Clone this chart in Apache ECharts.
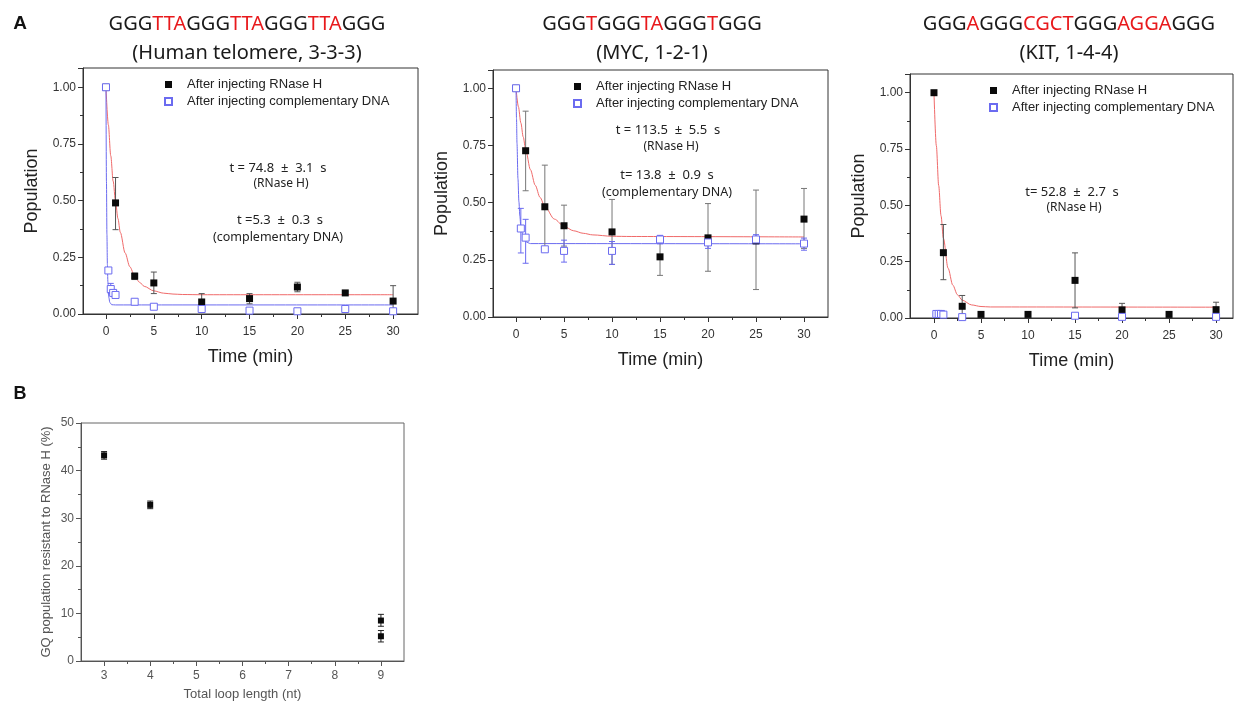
<!DOCTYPE html>
<html>
<head>
<meta charset="utf-8">
<script src="https://cdn.jsdelivr.net/npm/echarts@6/dist/echarts.min.js"></script>
<style>
html, body { margin: 0; padding: 0; background: #fff; }
#chart { width: 1235px; height: 702px; }
</style>
</head>
<body>
<div id="chart"></div>
<script>
// ---- panel A1: human telomere ----
const telTimeRH = [0, 1, 3, 5, 10, 15, 20, 25, 30];
const telPopRH = [1.0, 0.49, 0.167, 0.137, 0.053, 0.068, 0.119, 0.093, 0.057];
const telErrRH = [null, [0.372, 0.602], [0.152, 0.18], [0.09, 0.185], [0.02, 0.09], [0.045, 0.09], [0.098, 0.14], [0.085, 0.1], [0.0, 0.125]];
const telTimeCD = [0, 0.25, 0.5, 0.75, 1, 3, 5, 10, 15, 20, 25, 30];
const telPopCD = [1.0, 0.192, 0.11, 0.093, 0.084, 0.054, 0.032, 0.022, 0.015, 0.012, 0.022, 0.012];
const telErrCD = [null, null, [0.09, 0.135], null, null, null, null, null, null, null, null, null];
const telFitTimeRH = [0, 0.25, 0.5, 0.75, 1, 1.25, 1.5, 2, 2.5, 3, 3.5, 4, 5, 6, 7, 8, 10, 30];
const telFitRH = [1.0, 0.834, 0.698, 0.586, 0.495, 0.421, 0.36, 0.269, 0.208, 0.167, 0.14, 0.122, 0.102, 0.092, 0.088, 0.086, 0.085, 0.085];
const telFitTimeCD = [0, 0.05, 0.1, 0.15, 0.2, 0.3, 0.4, 0.6, 1, 30];
const telFitCD = [1.0, 0.586, 0.351, 0.217, 0.141, 0.073, 0.051, 0.041, 0.04, 0.04];

// ---- panel A2: MYC ----
const mycTimeRH = [0, 1, 3, 5, 10, 15, 20, 25, 30];
const mycPopRH = [1.0, 0.727, 0.482, 0.399, 0.372, 0.263, 0.346, 0.333, 0.428];
const mycErrRH = [null, [0.552, 0.9], [0.3, 0.664], [0.31, 0.489], [0.23, 0.514], [0.182, 0.345], [0.2, 0.496], [0.12, 0.555], [0.3, 0.562]];
const mycTimeCD = [0, 0.5, 1, 3, 5, 10, 15, 20, 25, 30];
const mycPopCD = [1.0, 0.387, 0.347, 0.296, 0.289, 0.289, 0.339, 0.326, 0.339, 0.321];
const mycErrCD = [null, [0.28, 0.475], [0.235, 0.427], [0.29, 0.305], [0.24, 0.336], [0.23, 0.33], [0.32, 0.357], [0.3, 0.345], [0.32, 0.36], [0.292, 0.345]];
const mycFitTimeRH = [0, 0.25, 0.5, 0.75, 1, 1.5, 2, 2.5, 3, 4, 5, 6, 7, 8, 10, 12, 30];
const mycFitRH = [1.0, 0.919, 0.849, 0.787, 0.733, 0.644, 0.576, 0.523, 0.483, 0.428, 0.396, 0.377, 0.366, 0.359, 0.353, 0.352, 0.35];
const mycFitTimeCD = [0, 0.05, 0.1, 0.2, 0.3, 0.4, 0.5, 0.75, 1, 1.5, 30];
const mycFitCD = [1.0, 0.867, 0.76, 0.605, 0.504, 0.44, 0.397, 0.346, 0.329, 0.321, 0.32];

// ---- panel A3: KIT ----
const kitTimeRH = [0, 1, 3, 5, 10, 15, 20, 25, 30];
const kitPopRH = [1.0, 0.29, 0.052, 0.016, 0.016, 0.167, 0.036, 0.016, 0.037];
const kitErrRH = [null, [0.17, 0.415], [0.0, 0.1], null, null, [0.045, 0.289], [0.01, 0.065], null, [0.01, 0.07]];
const kitTimeCD = [0.25, 0.5, 0.75, 1, 3, 15, 20, 30];
const kitPopCD = [0.018, 0.018, 0.018, 0.015, 0.004, 0.01, 0.005, 0.005];
const kitFitTimeRH = [0, 0.25, 0.5, 0.75, 1, 1.5, 2, 2.5, 3, 4, 5, 6, 30];
const kitFitRH = [1.0, 0.765, 0.588, 0.454, 0.354, 0.221, 0.146, 0.103, 0.079, 0.058, 0.051, 0.049, 0.048];

// ---- panel B ----
const loopLength = [3, 4, 9, 9];
const resistPct = [43.2, 32.8, 8.5, 5.2];
const resistErr = [[42.4, 44.0], [32.0, 33.6], [7.3, 9.8], [4.0, 6.4]];

const timeTicks = [0, 5, 10, 15, 20, 25, 30];
const timeMinorTicks = [2.5, 7.5, 12.5, 17.5, 22.5, 27.5];
const loopTicks = [3, 4, 5, 6, 7, 8, 9];
const loopMinorTicks = [3.5, 4.5, 5.5, 6.5, 7.5, 8.5];

const NAME_RH = 'After injecting RNase H';
const NAME_CD = 'After injecting complementary DNA';
const RED = '#f06a6a';
const BLUE = '#6b6bf0';
const AX = '#333';

const zip = (xs, ys) => xs.map((x, i) => [x, ys[i]]);

function xAxes(gridIndex, min, max, major, minor, name, style) {
    return [
        {
            type: 'value', gridIndex, min, max, position: 'bottom',
            axisLine: { onZero: false, lineStyle: { color: style.line } },
            axisTick: { customValues: major, length: 5, lineStyle: { color: style.line } },
            axisLabel: { customValues: major, color: style.label, fontSize: style.tick, margin: style.margin, fontFamily: 'Liberation Sans' },
            splitLine: { show: false },
            name, nameLocation: 'middle', nameGap: style.nameGap,
            nameTextStyle: { fontSize: style.name, color: style.nameColor, fontFamily: 'Liberation Sans' }
        },
        {
            type: 'value', gridIndex, min, max, position: 'bottom', offset: 0,
            axisLine: { show: false, onZero: false },
            axisTick: { customValues: minor, length: 3, lineStyle: { color: style.line } },
            axisLabel: { show: false },
            splitLine: { show: false }
        }
    ];
}

function yAxis(gridIndex, min, max, interval, digits, name, style) {
    return {
        type: 'value', gridIndex, min, max, interval,
        axisLine: { show: true, onZero: false, lineStyle: { color: style.line } },
        axisTick: { length: 5, lineStyle: { color: style.line } },
        minorTick: { show: true, splitNumber: 2, length: 3, lineStyle: { color: style.line } },
        axisLabel: {
            color: style.label, fontSize: style.tick, margin: 7, showMaxLabel: style.maxLabel,
            fontFamily: 'Liberation Sans',
            formatter: v => v.toFixed(digits)
        },
        splitLine: { show: false },
        name, nameLocation: 'middle', nameGap: style.nameGap, nameRotate: 90,
        nameTextStyle: { fontSize: style.name, color: style.nameColor, fontFamily: 'Liberation Sans' }
    };
}

function errorBars(xi, yi, xs, bars, color) {
    const data = [];
    xs.forEach((x, i) => { if (bars[i]) data.push([x, bars[i][0], bars[i][1]]); });
    return {
        type: 'custom', xAxisIndex: xi, yAxisIndex: yi, data, z: 3, silent: true,
        encode: { x: 0, y: [1, 2] },
        renderItem(params, api) {
            const top = api.coord([api.value(0), api.value(2)]);
            const bot = api.coord([api.value(0), api.value(1)]);
            const w = 3;
            const st = { stroke: color, lineWidth: 1 };
            return {
                type: 'group',
                children: [
                    { type: 'line', shape: { x1: top[0], y1: top[1], x2: bot[0], y2: bot[1] }, style: st },
                    { type: 'line', shape: { x1: top[0] - w, y1: top[1], x2: top[0] + w, y2: top[1] }, style: st },
                    { type: 'line', shape: { x1: bot[0] - w, y1: bot[1], x2: bot[0] + w, y2: bot[1] }, style: st }
                ]
            };
        }
    };
}

function fitLine(xi, yi, xs, ys, color) {
    return {
        type: 'line', xAxisIndex: xi, yAxisIndex: yi, data: zip(xs, ys),
        showSymbol: false, smooth: 0.3, smoothMonotone: 'x', silent: true, z: 2,
        lineStyle: { color, width: 1 }
    };
}

function points(xi, yi, name, xs, ys, hollow, size) {
    return {
        type: 'scatter', name, xAxisIndex: xi, yAxisIndex: yi, data: zip(xs, ys),
        symbol: 'rect', symbolSize: size || 7, z: hollow ? 6 : 5, silent: true,
        itemStyle: hollow
            ? { color: '#fff', borderColor: BLUE, borderWidth: 1, opacity: 1 }
            : { color: '#0a0a0a', opacity: 1 }
    };
}

function legend(left, top) {
    return {
        orient: 'vertical', left, top, itemWidth: 7, itemHeight: 7, itemGap: 4,
        selectedMode: false,
        textStyle: { fontSize: 13, color: '#222', fontFamily: 'Liberation Sans', padding: [0, 0, 0, 10] },
        data: [{ name: NAME_RH, icon: 'rect' }, { name: NAME_CD, icon: 'rect' }]
    };
}

const styleA = { line: AX, label: '#333', tick: 12, name: 18, nameColor: '#222', nameGap: 34, margin: 12, maxLabel: false };
const styleAy = Object.assign({}, styleA, { nameGap: 42 });
const styleB = { line: '#555', label: '#555', tick: 12, name: 13, nameColor: '#555', nameGap: 27, margin: 9, maxLabel: true };
const styleBy = Object.assign({}, styleB, { nameGap: 28 });

function txt(x, y, text, size, extra) {
    return {
        type: 'text', x, y, silent: true,
        style: Object.assign({
            text, fill: '#222', font: size + 'px "Noto Sans"',
            textAlign: 'center', textVerticalAlign: 'middle'
        }, extra || {})
    };
}
const seqRich = { k: { fill: '#1a1a1a', fontSize: 20, fontFamily: 'Noto Sans' }, r: { fill: '#e8191c', fontSize: 20, fontFamily: 'Noto Sans' } };

const chart = echarts.init(document.getElementById('chart'));
chart.setOption({
    backgroundColor: '#fff',
    animation: false,
    grid: [
        { left: 83, top: 68, width: 335, height: 246, show: true, borderColor: AX, borderWidth: 1 },
        { left: 493, top: 70, width: 335, height: 247, show: true, borderColor: AX, borderWidth: 1 },
        { left: 910, top: 74, width: 323, height: 244, show: true, borderColor: AX, borderWidth: 1 },
        { left: 81, top: 423, width: 323, height: 238, show: true, borderColor: '#666', borderWidth: 1 }
    ],
    xAxis: [].concat(
        xAxes(0, -2.4, 32.6, timeTicks, timeMinorTicks, 'Time (min)', styleA),
        xAxes(1, -2.4, 32.5, timeTicks, timeMinorTicks, 'Time (min)', styleA),
        xAxes(2, -2.55, 31.8, timeTicks, timeMinorTicks, 'Time (min)', styleA),
        xAxes(3, 2.5, 9.5, loopTicks, loopMinorTicks, 'Total loop length (nt)', styleB)
    ),
    yAxis: [
        yAxis(0, 0, 1.085, 0.25, 2, 'Population', styleAy),
        yAxis(1, 0, 1.08, 0.25, 2, 'Population', styleAy),
        yAxis(2, 0, 1.083, 0.25, 2, 'Population', styleAy),
        yAxis(3, 0, 50, 10, 0, 'GQ population resistant to RNase H (%)', styleBy)
    ],
    legend: [legend(159, 73), legend(568, 75), legend(984, 79)],
    series: [
        fitLine(0, 0, telFitTimeRH, telFitRH, RED),
        fitLine(0, 0, telFitTimeCD, telFitCD, BLUE),
        errorBars(0, 0, telTimeRH, telErrRH, '#555'),
        errorBars(0, 0, telTimeCD, telErrCD, BLUE),
        points(0, 0, NAME_RH, telTimeRH, telPopRH, false),
        points(0, 0, NAME_CD, telTimeCD, telPopCD, true),

        fitLine(2, 1, mycFitTimeRH, mycFitRH, RED),
        fitLine(2, 1, mycFitTimeCD, mycFitCD, BLUE),
        errorBars(2, 1, mycTimeRH, mycErrRH, '#777'),
        errorBars(2, 1, mycTimeCD, mycErrCD, BLUE),
        points(2, 1, NAME_RH, mycTimeRH, mycPopRH, false),
        points(2, 1, NAME_CD, mycTimeCD, mycPopCD, true),

        fitLine(4, 2, kitFitTimeRH, kitFitRH, RED),
        errorBars(4, 2, kitTimeRH, kitErrRH, '#555'),
        points(4, 2, NAME_RH, kitTimeRH, kitPopRH, false),
        points(4, 2, NAME_CD, kitTimeCD, kitPopCD, true),

        errorBars(6, 3, loopLength, resistErr, '#222'),
        points(6, 3, 'GQ resistant', loopLength, resistPct, false, 6)
    ],
    graphic: [
        txt(20, 24, 'A', 19, { font: 'bold 19px "Liberation Sans"', fill: '#111' }),
        txt(20, 394, 'B', 18, { font: 'bold 18px "Liberation Sans"', fill: '#111' }),

        txt(247, 24, '{k|GGG}{r|TTA}{k|GGG}{r|TTA}{k|GGG}{r|TTA}{k|GGG}', 20, { rich: seqRich }),
        txt(247, 53, '(Human telomere, 3-3-3)', 20, { fill: '#1a1a1a' }),
        txt(652, 24, '{k|GGG}{r|T}{k|GGG}{r|TA}{k|GGG}{r|T}{k|GGG}', 20, { rich: seqRich }),
        txt(652, 53, '(MYC, 1-2-1)', 20, { fill: '#1a1a1a' }),
        txt(1069, 24, '{k|GGG}{r|A}{k|GGG}{r|CGCT}{k|GGG}{r|AGGA}{k|GGG}', 20, { rich: seqRich }),
        txt(1069, 53, '(KIT, 1-4-4)', 20, { fill: '#1a1a1a' }),

        txt(278, 168, 't = 74.8  \u00b1  3.1  s', 13),
        txt(281, 184, '(RNase H)', 12),
        txt(280, 220, 't =5.3  \u00b1  0.3  s', 13),
        txt(278, 237, '(complementary DNA)', 12.5),

        txt(668, 130, 't = 113.5  \u00b1  5.5  s', 13),
        txt(671, 147, '(RNase H)', 12),
        txt(667, 175, 't= 13.8  \u00b1  0.9  s', 13),
        txt(667, 192, '(complementary DNA)', 12.5),

        txt(1072, 192, 't= 52.8  \u00b1  2.7  s', 13),
        txt(1074, 208, '(RNase H)', 12)
    ]
});
</script>
</body>
</html>
